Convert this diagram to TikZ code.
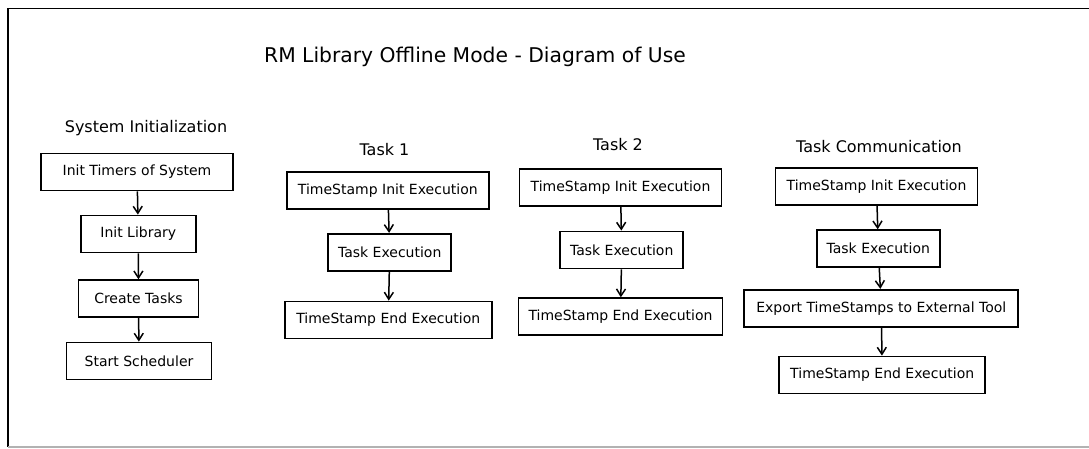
\documentclass[tikz,border=0pt]{standalone}
\usepackage{fontspec}
\setmainfont{DejaVu Sans}
\usetikzlibrary{arrows.meta,positioning}
\tikzstyle{block} = [draw, line width=1.8pt, rectangle, minimum height=37pt, inner sep=0pt, font=\fontsize{14}{16}\selectfont]
\tikzstyle{head} = [inner sep=0pt, font=\fontsize{16}{18}\selectfont]
\tikzstyle{line} = [draw, line width=1.5pt]
\tikzset{>={Straight Barb[length=7pt,width=9pt]}}

\begin{document}
\begin{tikzpicture}[x=1pt,y=-1pt]
    \useasboundingbox (0,0) rectangle (1089,448);
    % frame
    \draw [line width=1.6pt] (1089,8.5) -- (8,8.5) -- (8,447);
    \draw [line width=1.6pt, black!30] (8,447) -- (1089,447);

    \node [inner sep=0pt, font=\fontsize{20.3}{24}\selectfont] (title) at (475,57) {RM Library Offline Mode - Diagram of Use};

    % system initialization
    \node [head] (sys) at (146,128) {System Initialization};
    \node [block, minimum width=192pt] (timers) at (137,172) {Init Timers of System};
    \node [block, minimum width=115pt] (lib) at (138.3,234) {Init Library};
    \node [block, minimum width=120pt] (create) at (138.5,298.7) {Create Tasks};
    \node [block, minimum width=145pt] (sched) at (139,361) {Start Scheduler};
    \draw [line,->] (timers) -- (lib);
    \draw [line,->] (lib) -- (create);
    \draw [line,->] (create) -- (sched);

    % task 1
    \node [head] (t1) at (384.5,150) {Task 1};
    \node [block, minimum width=202pt] (t1init) at (387.8,190.3) {TimeStamp Init Execution};
    \node [block, minimum width=123pt] (t1exec) at (389.7,252.3) {Task Execution};
    \node [block, minimum width=207pt] (t1end) at (388.3,320) {TimeStamp End Execution};
    \draw [line,->] (t1init) -- (t1exec);
    \draw [line,->] (t1exec) -- (t1end);

    % task 2
    \node [head] (t2) at (618,145) {Task 2};
    \node [block, minimum width=202pt] (t2init) at (620.5,187.7) {TimeStamp Init Execution};
    \node [block, minimum width=123pt] (t2exec) at (621.7,250) {Task Execution};
    \node [block, minimum width=204pt] (t2end) at (620.5,316.7) {TimeStamp End Execution};
    \draw [line,->] (t2init) -- (t2exec);
    \draw [line,->] (t2exec) -- (t2end);

    % task communication
    \node [head] (tc) at (879,147) {Task Communication};
    \node [block, minimum width=202pt] (tcinit) at (876.5,186.7) {TimeStamp Init Execution};
    \node [block, minimum width=123pt] (tcexec) at (878.3,248.7) {Task Execution};
    \node [block, minimum width=274pt] (tcexport) at (881.3,308.3) {Export TimeStamps to External Tool};
    \node [block, minimum width=206pt] (tcend) at (882.2,375) {TimeStamp End Execution};
    \draw [line,->] (tcinit) -- (tcexec);
    \draw [line,->] (tcexec) -- (tcexport);
    \draw [line,->] (tcexport) -- (tcend);
\end{tikzpicture}
\end{document}
